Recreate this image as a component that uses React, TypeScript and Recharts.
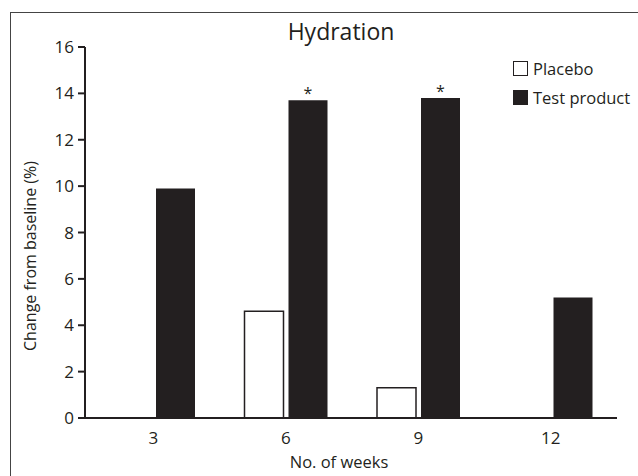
import { BarChart, Bar, XAxis, YAxis, Legend, LabelList } from 'recharts'

const weeks = ['3', '6', '9', '12']
const placebo: (number | null)[] = [null, 4.6, 1.3, null]
const testProduct = [9.9, 13.7, 13.8, 5.2]
const significance = ['', '*', '*', '']
const yTicks = [0, 2, 4, 6, 8, 10, 12, 14, 16]

const data = weeks.map((w, i) => ({ week: w, placebo: placebo[i], test: testProduct[i] }))

const INK = '#231f20'
const FONT = '"Open Sans", sans-serif'

function LegendBox({ payload }: any) {
  return (
    <div style={{ fontFamily: FONT, fontSize: 16.5, color: INK }}>
      {(payload || []).map((item: any) => (
        <div key={item.value} style={{ display: 'flex', alignItems: 'center', height: 29 }}>
          <span
            style={{
              width: 15,
              height: 15,
              boxSizing: 'border-box',
              border: `1.5px solid ${INK}`,
              background: item.dataKey === 'test' ? INK : '#fff',
              marginRight: 5,
            }}
          />
          <span>{item.value}</span>
        </div>
      ))}
    </div>
  )
}

export default function App() {
  return (
    <div
      style={{
        position: 'absolute',
        left: 0,
        top: 0,
        width: 638,
        height: 476,
        background: '#fff',
        overflow: 'hidden',
      }}
    >
      <div
        style={{
          position: 'absolute',
          left: 10,
          top: 12,
          width: 700,
          height: 600,
          borderTop: '1.5px solid #444',
          borderLeft: '1.5px solid #444',
        }}
      />
      <div style={{ position: 'absolute', left: 0, top: 0 }}>
        <BarChart
          width={638}
          height={476}
          data={data}
          margin={{ top: 47, right: 21, bottom: 0, left: 0 }}
          barSize={39}
          barGap={5}
        >
          <text x={341} y={40} textAnchor="middle" fontFamily={FONT} fontSize={23} fill={INK}>
            Hydration
          </text>
          <XAxis
            dataKey="week"
            height={58}
            padding={{ left: 2, right: 0 }}
            axisLine={{ stroke: INK, strokeWidth: 2 }}
            tickLine={false}
            tickMargin={8}
            tick={{ fill: INK, fontSize: 17, fontFamily: FONT }}
            label={{
              content: () => (
                <text x={339} y={468} textAnchor="middle" fontFamily={FONT} fontSize={16.5} fill={INK}>
                  No. of weeks
                </text>
              ),
            }}
          />
          <YAxis
            width={85}
            domain={[0, 16]}
            ticks={yTicks}
            interval={0}
            axisLine={{ stroke: INK, strokeWidth: 2 }}
            tickLine={{ stroke: INK, strokeWidth: 2 }}
            tickSize={7}
            tickMargin={4}
            tick={{ fill: INK, fontSize: 17, fontFamily: FONT }}
            label={{
              content: () => (
                <text
                  x={36}
                  y={256}
                  transform="rotate(-90, 36, 256)"
                  textAnchor="middle"
                  fontFamily={FONT}
                  fontSize={16}
                  fill={INK}
                >
                  Change from baseline (%)
                </text>
              ),
            }}
          />
          <Legend
            layout="vertical"
            verticalAlign="middle"
            align="center"
            content={<LegendBox />}
            wrapperStyle={{ top: 54, left: 513, width: 130 }}
          />
          <Bar
            dataKey="placebo"
            name="Placebo"
            fill="#fff"
            stroke={INK}
            strokeWidth={1.5}
            isAnimationActive={false}
          />
          <Bar dataKey="test" name="Test product" fill={INK} isAnimationActive={false}>
            <LabelList
              dataKey="test"
              content={(p: any) => (
                <text
                  x={p.x + p.width / 2}
                  y={p.y - 1}
                  textAnchor="middle"
                  fontFamily={FONT}
                  fontSize={16}
                  fill={INK}
                >
                  {significance[p.index]}
                </text>
              )}
            />
          </Bar>
        </BarChart>
      </div>
    </div>
  )
}
